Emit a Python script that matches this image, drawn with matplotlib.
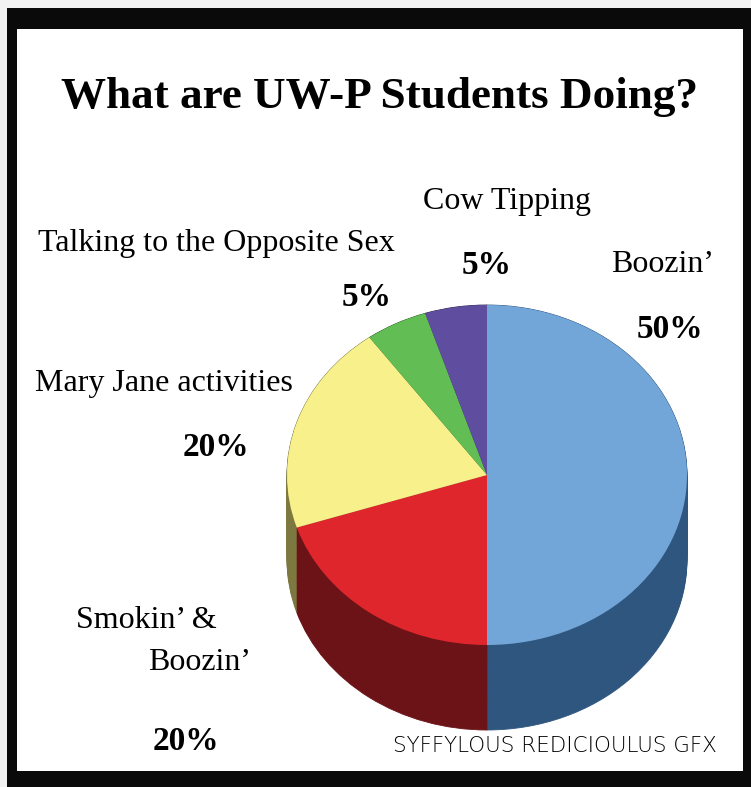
import matplotlib
matplotlib.use("Agg")
import matplotlib.pyplot as plt
import numpy as np
from matplotlib.patches import Rectangle

# data
labels = ["Boozin'", "Smokin' & Boozin'", "Mary Jane activities",
          "Talking to the Opposite Sex", "Cow Tipping"]
shares = [50, 20, 20, 5, 5]
top_colors = ["#72a6d8", "#df262d", "#f8f08a", "#62bd55", "#5f4e9f"]
side_colors = ["#2f567f", "#6b1317", "#7d7840", "#2f5a2a", "#2e2550"]

W, H = 751, 787
fig = plt.figure(figsize=(W / 100, H / 100), dpi=100)
fig.patch.set_facecolor("#f2f2f2")

# background / frame axes in pixel coordinates
bg = fig.add_axes([0, 0, 1, 1])
bg.set_xlim(0, W)
bg.set_ylim(H, 0)
bg.axis("off")
bg.add_patch(Rectangle((7, 8), W - 7, H - 8, facecolor="#0a0a0a", edgecolor="none"))
bg.add_patch(Rectangle((17, 29), 726, 742, facecolor="white", edgecolor="none"))

# the pie, drawn as a stack of dark pies for the side and one light pie on top
px = fig.add_axes([287 / W, 1 - 730 / H, 400 / W, 425 / H])
depth = 0.5
for d in np.linspace(depth, 0.0, 50):
    px.pie(shares, colors=side_colors, startangle=90, counterclock=False,
           center=(0, -d), radius=1, wedgeprops=dict(linewidth=0.6))
    for w in px.patches[-len(shares):]:
        w.set_edgecolor(w.get_facecolor())
px.pie(shares, colors=top_colors, startangle=90, counterclock=False,
       center=(0, 0), radius=1, wedgeprops=dict(linewidth=0))
px.set_aspect("auto")
px.set_xlim(-1, 1)
px.set_ylim(-1.5, 1)
px.axis("off")

serif = "Liberation Serif"

bg.text(380, 97, "What are UW-P Students Doing?", ha="center", va="center",
        fontsize=32.5, fontweight="bold", family=serif)

# category names
lab = dict(ha="center", va="center", fontsize=23, family=serif)
bg.text(507, 201, "Cow Tipping", **lab)
bg.text(216, 243, "Talking to the Opposite Sex", **lab)
bg.text(663, 265, "Boozin\u2019", **lab)
bg.text(164, 383, "Mary Jane activities", **lab)
bg.text(146, 620, "Smokin\u2019 &", **lab)
bg.text(200, 662, "Boozin\u2019", **lab)

# percentages
pct = dict(ha="center", va="center", fontsize=24, fontweight="bold", family=serif)
bg.text(487, 266, f"{shares[4]}%", **pct)
bg.text(367, 297, f"{shares[3]}%", **pct)
bg.text(670, 330, f"{shares[0]}%", **pct)
bg.text(216, 447, f"{shares[2]}%", **pct)
bg.text(186, 741, f"{shares[1]}%", **pct)

bg.text(555, 746, "SYFFYLOUS REDICIOULUS GFX", ha="center", va="center",
        fontsize=15.5, family="DejaVu Sans", fontweight="light")

fig.savefig("out.png", dpi=100, facecolor=fig.get_facecolor())
